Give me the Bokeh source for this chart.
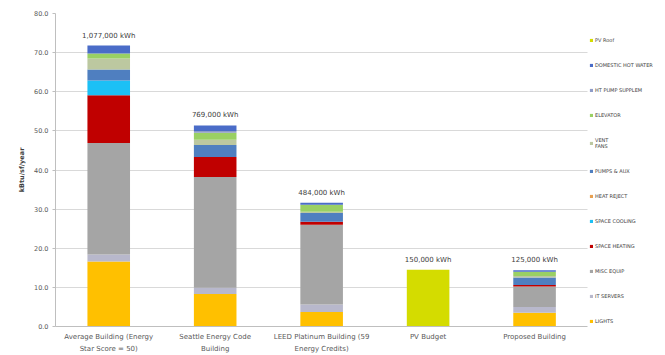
from bokeh.plotting import figure
from bokeh.models import (ColumnDataSource, Range1d, Legend, LegendItem, SingleIntervalTicker,
                          NumeralTickFormatter, FixedTicker)
from bokeh.core.properties import value
from bokeh.embed import file_html
from bokeh.resources import INLINE

categories = ["Average Building (Energy\nStar Score = 50)", "Seattle Energy Code\nBuilding",
              "LEED Platinum Building (59\nEnergy Credits)", "PV Budget", "Proposed Building"]

lights          = [16.6, 8.3, 3.7, 0.0, 3.5]
it_servers      = [1.8, 1.6, 1.9, 0.0, 1.5]
misc_equip      = [28.5, 28.3, 20.4, 0.0, 5.2]
space_heating   = [12.2, 5.1, 0.8, 0.0, 0.4]
space_cooling   = [3.8, 0.0, 0.0, 0.0, 0.0]
heat_reject     = [0.0, 0.0, 0.0, 0.0, 0.0]
pumps_aux       = [2.8, 3.1, 2.2, 0.0, 1.9]
vent_fans       = [2.8, 1.3, 0.3, 0.0, 0.4]
elevator        = [1.3, 1.8, 1.8, 0.0, 1.1]
ht_pump_supplem = [0.0, 0.5, 0.0, 0.0, 0.0]
domestic_hw     = [2.0, 1.4, 0.5, 0.0, 0.4]
pv_roof         = [0.0, 0.0, 0.0, 14.5, 0.0]

total_labels = ["1,077,000 kWh", "769,000 kWh", "484,000 kWh", "150,000 kWh", "125,000 kWh"]

series_keys = ["lights", "it_servers", "misc_equip", "space_heating", "space_cooling", "heat_reject",
               "pumps_aux", "vent_fans", "elevator", "ht_pump_supplem", "domestic_hw", "pv_roof"]
series_values = [lights, it_servers, misc_equip, space_heating, space_cooling, heat_reject,
                 pumps_aux, vent_fans, elevator, ht_pump_supplem, domestic_hw, pv_roof]
series_labels = ["LIGHTS", "IT SERVERS", "MISC EQUIP", "SPACE HEATING", "SPACE COOLING", "HEAT REJECT",
                 "PUMPS & AUX", "VENT\nFANS", "ELEVATOR", "HT PUMP SUPPLEM", "DOMESTIC HOT WATER", "PV Roof"]
colors = ["#FFC000", "#B8B8CC", "#A5A5A5", "#C00000", "#1CC0F5", "#E8A050",
          "#4F7FC0", "#BCC8A0", "#9AD064", "#8E9CC8", "#4A6CC8", "#D4DC00"]

x_pos = list(range(len(categories)))
data = {"x": x_pos}
for k, v in zip(series_keys, series_values):
    data[k] = v
source = ColumnDataSource(data)

totals = [sum(vals) for vals in zip(*series_values)]
label_source = ColumnDataSource(dict(x=x_pos, y=totals, text=total_labels))

font = "DejaVu Sans"

p = figure(x_range=Range1d(-0.5, 5.23), y_range=Range1d(0, 80), width=665, height=355,
           output_backend="svg", toolbar_location=None,
           min_border_left=55, min_border_right=0, min_border_top=13, min_border_bottom=0)
p.outline_line_color = None

renderers = p.vbar_stack(series_keys, x="x", width=0.4, source=source, color=colors, line_color=None)

p.text(x="x", y="y", text="text", source=label_source, text_align="center", text_baseline="bottom",
       y_offset=-6, text_font_size="7px", text_color="#404040", text_font=value(font))

p.xaxis.ticker = FixedTicker(ticks=x_pos)
p.xaxis.major_label_overrides = {i: c for i, c in zip(x_pos, categories)}
p.xaxis.bounds = (-0.5, len(categories) - 0.5)
p.yaxis.ticker = SingleIntervalTicker(interval=10)
p.yaxis.formatter = NumeralTickFormatter(format="0.0")
p.yaxis.axis_label = "kBtu/sf/year"
p.yaxis.axis_label_text_font_size = "6.5px"
p.yaxis.axis_label_text_font_style = "bold"
p.yaxis.axis_label_text_color = "#404040"
p.yaxis.axis_label_text_font = font
p.yaxis.axis_label_standoff = 5
p.axis.major_label_text_font_size = "6.5px"
p.xaxis.major_label_text_font_size = "7px"
p.axis.major_label_text_color = "#595959"
p.axis.major_label_text_font = font
p.xaxis.major_label_text_line_height = 1.5
p.axis.axis_line_color = "#BFBFBF"
p.axis.major_tick_line_color = "#BFBFBF"
p.axis.minor_tick_line_color = None
p.yaxis.major_tick_out = 3
p.yaxis.major_tick_in = 0
p.yaxis.major_label_standoff = 3
p.xaxis.major_tick_out = 0
p.xaxis.major_tick_in = 0
p.xaxis.major_label_standoff = 6
p.xgrid.grid_line_color = None
p.ygrid.grid_line_color = "#D9D9D9"
grid = p.ygrid[0]
if "cross_bounds" in grid.properties():
    grid.cross_bounds = (-0.5, len(categories) - 0.5)

items = [LegendItem(label=lbl, renderers=[r]) for lbl, r in zip(series_labels, renderers)]
items = items[::-1]
legend = Legend(items=items, location=(534, 2), orientation="vertical",
                label_text_font_size="5px", label_text_color="#404040", label_text_font=font,
                glyph_width=4, glyph_height=4, label_height=6, label_standoff=2,
                spacing=19, padding=2, margin=0, border_line_color=None,
                background_fill_color="white", background_fill_alpha=1)
p.add_layout(legend, "center")

open("out.html", "w").write(file_html(p, INLINE))
